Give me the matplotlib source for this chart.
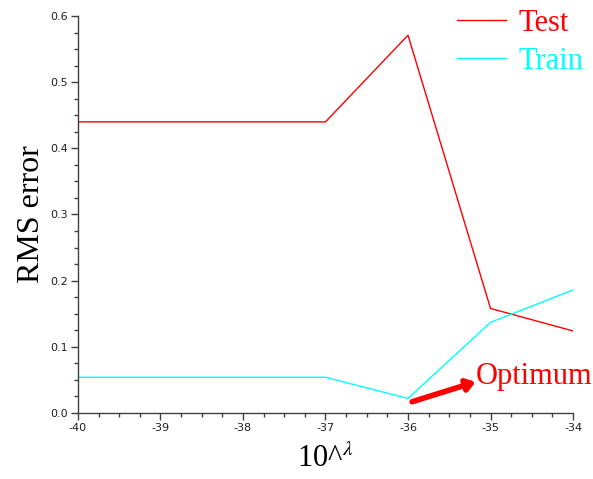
import matplotlib
matplotlib.use("Agg")
import matplotlib.pyplot as plt
from matplotlib.ticker import MultipleLocator

x_vals = [-40, -37, -36, -35, -34]
test_rms = [0.440, 0.440, 0.571, 0.158, 0.124]
train_rms = [0.054, 0.054, 0.022, 0.137, 0.186]
x_ticks = [-40, -39, -38, -37, -36, -35, -34]
y_ticks = [0.0, 0.1, 0.2, 0.3, 0.4, 0.5, 0.6]

plt.rcParams['mathtext.fontset'] = 'stix'
serif = ['Liberation Serif', 'DejaVu Serif']

fig = plt.figure(figsize=(5.93, 4.79), dpi=100)
ax = fig.add_axes([0.1315, 0.1378, 0.8348, 0.8288])

ax.plot(x_vals, test_rms, color='#ff0000', lw=1.0, label='Test')
ax.plot(x_vals, train_rms, color='#00ffff', lw=1.0, label='Train')

ax.set_xlim(-40, -34)
ax.set_ylim(0, 0.6)
ax.set_xticks(x_ticks)
ax.set_xticklabels([str(v) for v in x_ticks])
ax.set_yticks(y_ticks)
ax.set_yticklabels([f"{v:.1f}" for v in y_ticks])
ax.xaxis.set_minor_locator(MultipleLocator(0.25))
ax.yaxis.set_minor_locator(MultipleLocator(0.025))

for s in ['top', 'right']:
    ax.spines[s].set_visible(False)
for s in ['left', 'bottom']:
    ax.spines[s].set_color('#404040')
    ax.spines[s].set_linewidth(1.0)
ax.tick_params(which='major', length=5, width=1, color='#404040', labelsize=8, labelcolor='#202020', pad=2)
ax.tick_params(which='minor', length=3, width=1, color='#404040')

ax.set_ylabel('RMS error', fontsize=23, family=serif, labelpad=3)
ax.set_xlabel(r'10^$^{\lambda}$', fontsize=22, family=serif, labelpad=8)

leg = fig.legend(loc='upper left', bbox_to_anchor=(0.7707, 0.981), frameon=False,
                 prop={'family': serif, 'size': 22}, labelcolor='linecolor',
                 handlelength=1.6, handletextpad=0.42, borderpad=0.0, borderaxespad=0.0,
                 labelspacing=0.28)

ax.annotate('', xy=(-35.18, 0.047), xytext=(-35.95, 0.017),
            arrowprops=dict(arrowstyle='-|>,head_length=0.5,head_width=0.35', color='#ff0000', lw=4, shrinkA=0, shrinkB=0))
ax.text(-35.18, 0.055, 'Optimum', color='#ff0000', fontsize=22, family=serif, va='center', ha='left')

fig.savefig('out.png', dpi=100)
